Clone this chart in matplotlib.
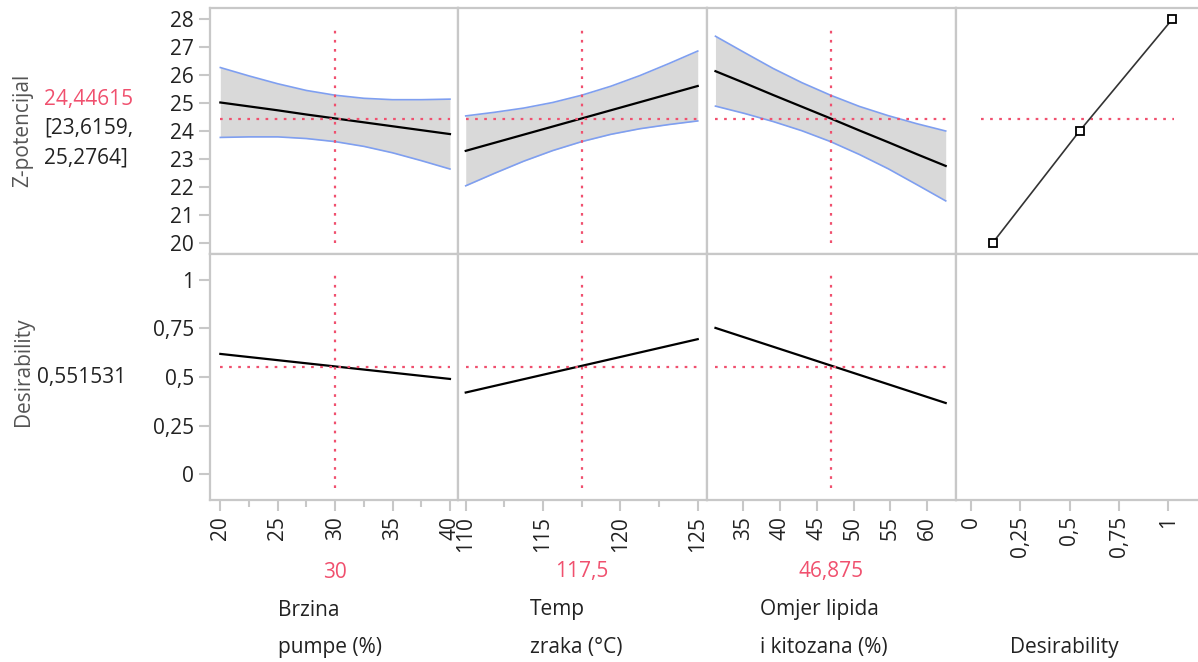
import numpy as np
import matplotlib
matplotlib.use('Agg')
import matplotlib.pyplot as plt
from matplotlib.ticker import FuncFormatter, FixedLocator
from matplotlib import transforms

plt.rcParams['font.family'] = ['Open Sans', 'DejaVu Sans']

# --- podaci (procitano sa slike) ---
z_label = 'Z-potencijal'
z_value = '24,44615'
z_ci = ['[23,6159,', '25,2764]']
d_label = 'Desirability'
d_value = '0,551531'

z_current = 24.44615
d_current = 0.551531

factor_names = [['Brzina', 'pumpe (%)'], ['Temp', 'zraka (°C)'], ['Omjer lipida', 'i kitozana (%)']]
factor_current = [30, 117.5, 46.875]
factor_current_txt = ['30', '117,5', '46,875']

# Brzina pumpe
x1 = [20, 22.5, 25, 27.5, 30, 32.5, 35, 37.5, 40]
z1_mean = [25.02, 24.88, 24.74, 24.59, 24.45, 24.31, 24.17, 24.03, 23.89]
z1_hi = [26.27, 25.97, 25.69, 25.45, 25.28, 25.17, 25.12, 25.12, 25.14]
z1_lo = [23.77, 23.79, 23.79, 23.73, 23.62, 23.45, 23.22, 22.94, 22.64]
d1 = [0.619, 0.49]

# Temp zraka
x2 = [110, 111.875, 113.75, 115.625, 117.5, 119.375, 121.25, 123.125, 125]
z2_mean = [23.29, 23.58, 23.87, 24.16, 24.45, 24.74, 25.03, 25.32, 25.61]
z2_hi = [24.54, 24.67, 24.82, 25.02, 25.28, 25.60, 25.98, 26.41, 26.86]
z2_lo = [22.04, 22.49, 22.92, 23.30, 23.62, 23.88, 24.08, 24.23, 24.36]
d2 = [0.42, 0.695]

# Omjer lipida i kitozana
x3 = [31.25, 35.16, 39.06, 42.97, 46.875, 50.78, 54.69, 58.59, 62.5]
z3_mean = [26.14, 25.72, 25.29, 24.87, 24.45, 24.02, 23.60, 23.17, 22.75]
z3_hi = [27.39, 26.81, 26.24, 25.73, 25.28, 24.88, 24.55, 24.26, 24.0]
z3_lo = [24.89, 24.63, 24.34, 24.01, 23.62, 23.16, 22.65, 22.08, 21.5]
d3 = [0.753, 0.366]

# desirability funkcija
des_x = [0.11, 0.55, 1.02]
des_z = [20, 24, 28]

xs = [x1, x2, x3]
means = [z1_mean, z2_mean, z3_mean]
his = [z1_hi, z2_hi, z3_hi]
los = [z1_lo, z2_lo, z3_lo]
ds = [d1, d2, d3]

xlims = [(19.1, 40.7), (109.5, 125.6), (30.1, 63.9)]
xticks = [[20, 25, 30, 35, 40], [110, 115, 120, 125], [35, 40, 45, 50, 55, 60]]
xminor = [[22.5, 27.5, 32.5, 37.5], [112.5, 117.5, 122.5], []]

W, H = 1198, 662
fig = plt.figure(figsize=(W / 100, H / 100), dpi=100)

col_edges = [210, 458, 707, 956, 1198]
row_edges = [8, 254, 500]

RED = '#f0506e'
BLUE = '#7f9ff0'
GRID = '#c8c8c8'
TXT = '#222222'
FS = 15


def rect(c, r):
    x0, x1_ = col_edges[c], col_edges[c + 1]
    y0, y1_ = row_edges[r], row_edges[r + 1]
    return [x0 / W, 1 - y1_ / H, (x1_ - x0) / W, (y1_ - y0) / H]


def comma(v, pos=None):
    return ('%g' % v).replace('.', ',')


dots = (0, (1.2, 2.9))

axes = {}
for r in range(2):
    for c in range(4):
        ax = fig.add_axes(rect(c, r))
        axes[(r, c)] = ax
        for s in ax.spines.values():
            s.set_color(GRID)
            s.set_linewidth(1.6)
        if c == 3:
            ax.spines['right'].set_visible(False)
        ax.tick_params(axis='both', colors=GRID, width=1.5, length=8,
                       labelcolor=TXT, labelsize=FS)
        ax.tick_params(which='minor', colors=GRID, width=1.5, length=5)
        if r == 0:
            ax.set_ylim(19.6, 28.4)
        else:
            ax.set_ylim(-0.134, 1.134)
        if c < 3:
            ax.set_xlim(*xlims[c])
        else:
            ax.set_xlim(-0.076, 1.15)
        if c == 0:
            if r == 0:
                ax.set_yticks(range(20, 29))
            else:
                ax.set_yticks([0, 0.25, 0.5, 0.75, 1])
            ax.yaxis.set_major_formatter(FuncFormatter(comma))
        else:
            ax.set_yticks([])
        if r == 1:
            if c < 3:
                ax.set_xticks(xticks[c])
                ax.xaxis.set_minor_locator(FixedLocator(xminor[c]))
            else:
                ax.set_xticks([0, 0.25, 0.5, 0.75, 1])
            ax.xaxis.set_major_formatter(FuncFormatter(comma))
            for lab in ax.get_xticklabels():
                lab.set_rotation(90)
        else:
            ax.set_xticks([])

# profili
for c in range(3):
    ax = axes[(0, c)]
    ax.fill_between(xs[c], los[c], his[c], color='#d9d9d9', lw=0)
    ax.plot(xs[c], his[c], color=BLUE, lw=1.2)
    ax.plot(xs[c], los[c], color=BLUE, lw=1.2)
    ax.plot(xs[c], means[c], color='black', lw=1.6)
    ax.plot([xs[c][0], xs[c][-1]], [z_current, z_current], color=RED, lw=1.6, ls=dots)
    ax.plot([factor_current[c]] * 2, [20, 27.8], color=RED, lw=1.6, ls=dots)

    ax = axes[(1, c)]
    ax.plot([xs[c][0], xs[c][-1]], ds[c], color='black', lw=1.6)
    ax.plot([xs[c][0], xs[c][-1]], [d_current, d_current], color=RED, lw=1.6, ls=dots)
    ax.plot([factor_current[c]] * 2, [-0.07, 1.05], color=RED, lw=1.6, ls=dots)

ax = axes[(0, 3)]
ax.plot(des_x, des_z, color='#333333', lw=1.2, marker='s', ms=6,
        mfc='white', mec='black', mew=1.3)
ax.plot([0.05, 1.03], [z_current, z_current], color=RED, lw=1.6, ls=dots, zorder=1)


def ftext(x, y, s, **kw):
    fig.text(x / W, 1 - y / H, s, fontsize=FS, **kw)


ftext(23, 130, z_label, rotation=90, ha='center', va='center', color='#555555')
ftext(44, 99, z_value, ha='left', va='center', color=RED)
ftext(44, 128, z_ci[0], ha='left', va='center', color=TXT)
ftext(44, 158, z_ci[1], ha='left', va='center', color=TXT)
ftext(23, 372, d_label, rotation=90, ha='center', va='center', color='#555555')
ftext(37, 378, d_value, ha='left', va='center', color=TXT)

name_x = [278, 530, 760]
for c in range(3):
    ax = axes[(1, c)]
    tr = transforms.blended_transform_factory(ax.transData, fig.transFigure)
    ax.text(factor_current[c], 1 - 572 / H, factor_current_txt[c], transform=tr,
            ha='center', va='center', color=RED, fontsize=FS)
    ftext(name_x[c], 610, factor_names[c][0], ha='left', va='center', color=TXT)
    ftext(name_x[c], 647, factor_names[c][1], ha='left', va='center', color=TXT)
ftext(1010, 647, 'Desirability', ha='left', va='center', color=TXT)

fig.savefig('out.png', dpi=100)
